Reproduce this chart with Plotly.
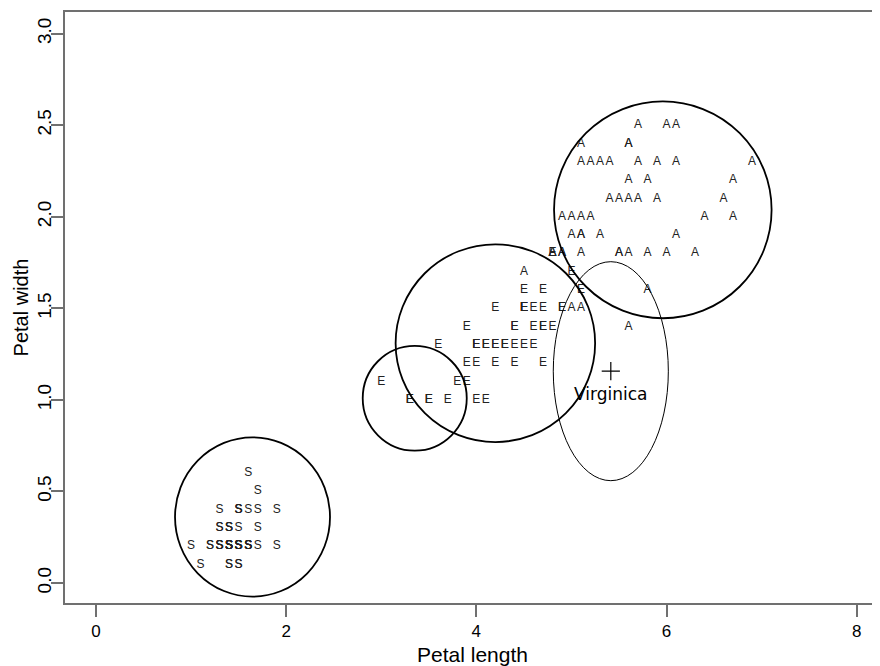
import plotly.graph_objects as go

# Iris petal measurements by species
setosa_length = [1.4,1.4,1.3,1.5,1.4,1.7,1.4,1.5,1.4,1.5,1.5,1.6,1.4,1.1,1.2,1.5,1.3,1.4,1.7,1.5,
                 1.7,1.5,1.0,1.7,1.9,1.6,1.6,1.5,1.4,1.6,1.6,1.5,1.5,1.4,1.5,1.2,1.3,1.4,1.3,1.5,
                 1.3,1.3,1.3,1.6,1.9,1.4,1.6,1.4,1.5,1.4]
setosa_width = [0.2,0.2,0.2,0.2,0.2,0.4,0.3,0.2,0.2,0.1,0.2,0.2,0.1,0.1,0.2,0.4,0.4,0.3,0.3,0.3,
                0.2,0.4,0.2,0.5,0.2,0.2,0.4,0.2,0.2,0.2,0.2,0.4,0.1,0.2,0.2,0.2,0.2,0.1,0.2,0.2,
                0.3,0.3,0.2,0.6,0.4,0.3,0.2,0.2,0.2,0.2]
versicolor_length = [4.7,4.5,4.9,4.0,4.6,4.5,4.7,3.3,4.6,3.9,3.5,4.2,4.0,4.7,3.6,4.4,4.5,4.1,4.5,3.9,
                     4.8,4.0,4.9,4.7,4.3,4.4,4.8,5.0,4.5,3.5,3.8,3.7,3.9,5.1,4.5,4.5,4.7,4.4,4.1,4.0,
                     4.4,4.6,4.0,3.3,4.2,4.2,4.2,4.3,3.0,4.1]
versicolor_width = [1.4,1.5,1.5,1.3,1.5,1.3,1.6,1.0,1.3,1.4,1.0,1.5,1.0,1.4,1.3,1.4,1.5,1.0,1.5,1.1,
                    1.8,1.3,1.5,1.2,1.3,1.4,1.4,1.7,1.5,1.0,1.1,1.0,1.2,1.6,1.5,1.6,1.5,1.3,1.3,1.3,
                    1.2,1.4,1.2,1.0,1.3,1.2,1.3,1.3,1.1,1.3]
virginica_length = [6.0,5.1,5.9,5.6,5.8,6.6,4.5,6.3,5.8,6.1,5.1,5.3,5.5,5.0,5.1,5.3,5.5,6.7,6.9,5.0,
                    5.7,4.9,6.7,4.9,5.7,6.0,4.8,4.9,5.6,5.8,6.1,6.4,5.6,5.1,5.6,6.1,5.6,5.5,4.8,5.4,
                    5.6,5.1,5.1,5.9,5.7,5.2,5.0,5.2,5.4,5.1]
virginica_width = [2.5,1.9,2.1,1.8,2.2,2.1,1.7,1.8,1.8,2.5,2.0,1.9,2.1,2.0,2.4,2.3,1.8,2.2,2.3,1.5,
                   2.3,2.0,2.0,1.8,2.1,1.8,1.8,1.8,2.1,1.6,1.9,2.0,2.2,1.5,1.4,2.3,2.4,1.8,1.8,2.1,
                   2.4,2.3,1.9,2.3,2.5,2.3,1.9,2.0,2.3,1.8]

species_letters = ["S", "E", "A"]

# Cluster circles (center x, center y, radius in x, radius in y), data units
circle_cx = [1.646, 3.352, 4.20, 5.961]
circle_cy = [0.361, 1.009, 1.31, 2.038]
circle_rx = [0.815, 0.547, 1.049, 1.144]
circle_ry = [0.435, 0.286, 0.54, 0.592]

# Virginica ellipse and its centre
ellipse_cx, ellipse_cy = 5.414, 1.157
ellipse_rx, ellipse_ry = 0.605, 0.598
ellipse_label = "Virginica"
ellipse_label_y = 1.023

x_ticks = [0, 2, 4, 6, 8]
y_ticks = [0.0, 0.5, 1.0, 1.5, 2.0, 2.5, 3.0]
y_tick_text = ["0.0", "0.5", "1.0", "1.5", "2.0", "2.5", "3.0"]

FONT = "Liberation Sans, Arial, sans-serif"
AXIS_COLOR = "#707070"

fig = go.Figure()

for letter, xs, ys in zip(species_letters,
                          [setosa_length, versicolor_length, virginica_length],
                          [setosa_width, versicolor_width, virginica_width]):
    fig.add_trace(go.Scatter(
        x=xs, y=ys, mode="text", text=[letter] * len(xs),
        textposition="middle center",
        textfont=dict(family=FONT, size=12, color="#222222"),
        showlegend=False, hoverinfo="x+y"))

for cx, cy, rx, ry in zip(circle_cx, circle_cy, circle_rx, circle_ry):
    fig.add_shape(type="circle", xref="x", yref="y",
                  x0=cx - rx, x1=cx + rx, y0=cy - ry, y1=cy + ry,
                  line=dict(color="black", width=1.8))

fig.add_shape(type="circle", xref="x", yref="y",
              x0=ellipse_cx - ellipse_rx, x1=ellipse_cx + ellipse_rx,
              y0=ellipse_cy - ellipse_ry, y1=ellipse_cy + ellipse_ry,
              line=dict(color="black", width=1))

fig.add_trace(go.Scatter(
    x=[ellipse_cx], y=[ellipse_cy], mode="markers",
    marker=dict(symbol="cross-thin", size=13, line=dict(color="black", width=1.2)),
    showlegend=False))
fig.add_trace(go.Scatter(
    x=[ellipse_cx], y=[ellipse_label_y], mode="text", text=[ellipse_label],
    textposition="middle center",
    textfont=dict(family="DejaVu Sans, sans-serif", size=17, color="black"),
    showlegend=False))

# the page body has an 8px margin; size and margins compensate for it
fig.update_layout(
    width=872, height=658,
    margin=dict(l=57, r=0, t=4, b=63),
    paper_bgcolor="white", plot_bgcolor="white",
    font=dict(family=FONT, color="black"),
    xaxis=dict(range=[-0.326, 8.245], tickvals=x_ticks, ticktext=[str(v) for v in x_ticks],
               showgrid=False, zeroline=False, showline=True, mirror=True,
               linecolor=AXIS_COLOR, linewidth=1.5,
               ticks="outside", ticklen=12, tickwidth=1.5, tickcolor=AXIS_COLOR,
               tickfont=dict(size=17, family=FONT),
               title=dict(text="Petal length", font=dict(size=21, family=FONT), standoff=7)),
    yaxis=dict(range=[-0.109, 3.1185], tickvals=y_ticks, ticktext=y_tick_text,
               showgrid=False, zeroline=False, showline=True,
               linecolor=AXIS_COLOR, linewidth=1.5,
               ticks="outside", ticklen=12, tickwidth=1.5, tickcolor=AXIS_COLOR,
               tickangle=-90, tickfont=dict(size=19, family=FONT),
               ticklabelstandoff=-7,
               title=dict(text="Petal width", font=dict(size=20, family=FONT), standoff=0)),
)

fig.write_html("out.html")
